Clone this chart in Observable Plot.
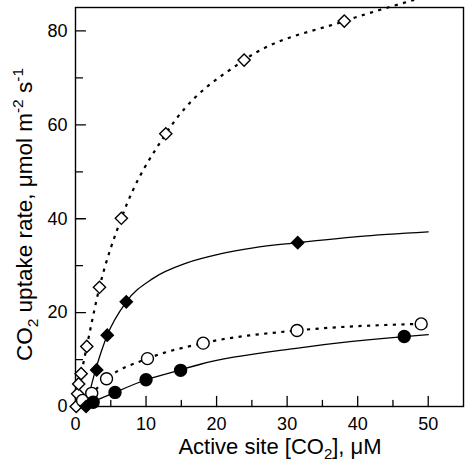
<!DOCTYPE html>
<html><head><meta charset="utf-8">
<script src="https://cdn.jsdelivr.net/npm/d3@7"></script>
<script src="https://cdn.jsdelivr.net/npm/@observablehq/plot@0.6"></script>
<style>body{margin:0;background:#fff;} svg{display:block}</style>
</head><body><div id="chart"></div>
<script>
// Open diamonds (dotted curve)
const openDiamondX = [0.1, 0.3, 0.45, 0.8, 1.6, 3.4, 6.5, 12.8, 23.9, 38.1];
const openDiamondY = [0, 2.7, 4.8, 7.0, 12.8, 25.4, 40.1, 58.1, 73.8, 82.1];
const openDiamondCurveX = [0.1, 0.3, 0.45, 0.8, 1.6, 3.4, 6.5, 12.8, 23.9, 38.1, 48.0];
const openDiamondCurveY = [0, 2.7, 4.8, 7.0, 12.8, 25.4, 40.1, 58.1, 73.8, 82.1, 86.6];
// Filled diamonds (solid curve)
const filledDiamondX = [1.5, 3.0, 4.5, 7.2, 31.5];
const filledDiamondY = [0, 7.8, 15.2, 22.3, 34.9];
const filledDiamondCurveX = [1.5, 3.0, 4.5, 7.2, 11.0, 15.8, 20.5, 25.2, 31.5, 40.0, 50.0];
const filledDiamondCurveY = [0, 8.6, 15.2, 22.3, 27.3, 30.6, 32.5, 33.8, 34.9, 36.2, 37.2];
// Open circles (dotted curve)
const openCircleX = [1.0, 2.3, 4.4, 10.2, 18.1, 31.4, 49.0];
const openCircleY = [1.3, 2.8, 5.9, 10.2, 13.5, 16.2, 17.6];
// Filled circles (solid curve)
const filledCircleX = [2.5, 5.6, 10.0, 14.9, 46.6];
const filledCircleY = [0.9, 3.0, 5.7, 7.7, 14.9];
const filledCircleCurveX = [1.6, 2.5, 5.6, 10.0, 14.9, 17.7, 31.8, 38.9, 46.6, 50.0];
const filledCircleCurveY = [0, 0.9, 3.0, 5.7, 7.8, 9.0, 12.5, 13.8, 14.9, 15.3];
// Ticks
const xMajor = [0, 10, 20, 30, 40, 50];
const xMinor = [5, 15, 25, 35, 45];
const yMajor = [0, 20, 40, 60, 80];
const yMinor = [10, 30, 50, 70];

const zip = (xs, ys) => xs.map((x, i) => ({x, y: ys[i]}));
const tickShape = {draw(ctx, l) { ctx.moveTo(0, 0); ctx.lineTo(0, -l); }};
const dotted = {stroke: "black", strokeWidth: 2.2, strokeDasharray: "3.2,5.4", strokeLinecap: "butt", curve: "monotone-x"};
const solid = {stroke: "black", strokeWidth: 1.3, curve: "monotone-x"};

const plot = Plot.plot({
  width: 465, height: 475,
  marginLeft: 75, marginRight: 2, marginTop: 7, marginBottom: 69,
  style: {fontFamily: "'Liberation Sans', Arial, sans-serif", background: "white", overflow: "visible"},
  x: {domain: [0, 55], axis: null},
  y: {domain: [0, 85], axis: null},
  marks: [
    Plot.frame({stroke: "black", strokeWidth: 1.4}),
    Plot.vector(xMajor, {x: d => d, frameAnchor: "bottom", length: 10, rotate: 0, anchor: "start", shape: tickShape, stroke: "black", strokeWidth: 1.3}),
    Plot.vector(xMinor, {x: d => d, frameAnchor: "bottom", length: 6, rotate: 0, anchor: "start", shape: tickShape, stroke: "black", strokeWidth: 1.3}),
    Plot.vector(yMajor, {y: d => d, frameAnchor: "left", length: 10, rotate: 90, anchor: "start", shape: tickShape, stroke: "black", strokeWidth: 1.3}),
    Plot.vector(yMinor, {y: d => d, frameAnchor: "left", length: 7, rotate: 90, anchor: "start", shape: tickShape, stroke: "black", strokeWidth: 1.3}),
    Plot.axisX(xMajor, {tickSize: 0, tickPadding: 11, fontSize: 18, label: null, fill: "black"}),
    Plot.axisY(yMajor, {tickSize: 0, tickPadding: 8, fontSize: 18, label: null, fill: "black"}),
    Plot.line(zip(openDiamondCurveX, openDiamondCurveY), {x: "x", y: "y", ...dotted}),
    Plot.line(zip(openCircleX, openCircleY), {x: "x", y: "y", ...dotted}),
    Plot.line(zip(filledDiamondCurveX, filledDiamondCurveY), {x: "x", y: "y", ...solid}),
    Plot.line(zip(filledCircleCurveX, filledCircleCurveY), {x: "x", y: "y", ...solid}),
    Plot.dot(zip(openDiamondX, openDiamondY), {x: "x", y: "y", symbol: "diamond2", r: 5.5, fill: "white", stroke: "black", strokeWidth: 1.4}),
    Plot.dot(zip(openCircleX, openCircleY), {x: "x", y: "y", symbol: "circle", r: 6, fill: "white", stroke: "black", strokeWidth: 1.4}),
    Plot.dot(zip(filledDiamondX, filledDiamondY), {x: "x", y: "y", symbol: "diamond2", r: 5.5, fill: "black", stroke: "black", strokeWidth: 1.4}),
    Plot.dot(zip(filledCircleX, filledCircleY), {x: "x", y: "y", symbol: "circle", r: 6, fill: "black", stroke: "black", strokeWidth: 1.4})
  ]
});

// Axis titles with sub/superscripts
const svg = d3.select(plot);
const xs = plot.scale("x"), ys = plot.scale("y");
const cx = (xs.range[0] + xs.range[1]) / 2;
const cy = (ys.range[0] + ys.range[1]) / 2;
const font = "'Liberation Sans', Arial, sans-serif";
const xt = svg.append("text").attr("x", cx + 11).attr("y", ys.range[0] + 48)
  .attr("text-anchor", "middle").attr("font-family", font).attr("font-size", 22).attr("fill", "black");
xt.append("tspan").text("Active site [CO");
xt.append("tspan").attr("dy", 5).attr("font-size", 15).text("2");
xt.append("tspan").attr("dy", -5).text("], μM");

const yt = svg.append("text").attr("transform", `translate(32,${cy + 8}) rotate(-90)`)
  .attr("text-anchor", "middle").attr("font-family", font).attr("font-size", 22.5).attr("fill", "black");
yt.append("tspan").text("CO");
yt.append("tspan").attr("dy", 6).attr("font-size", 15.5).text("2");
yt.append("tspan").attr("dy", -6).text(" uptake rate, μmol m");
yt.append("tspan").attr("dy", -9).attr("font-size", 15.5).text("-2");
yt.append("tspan").attr("dy", 9).text(" s");
yt.append("tspan").attr("dy", -9).attr("font-size", 15.5).text("-1");

document.getElementById("chart").appendChild(plot);
</script>
</body></html>
